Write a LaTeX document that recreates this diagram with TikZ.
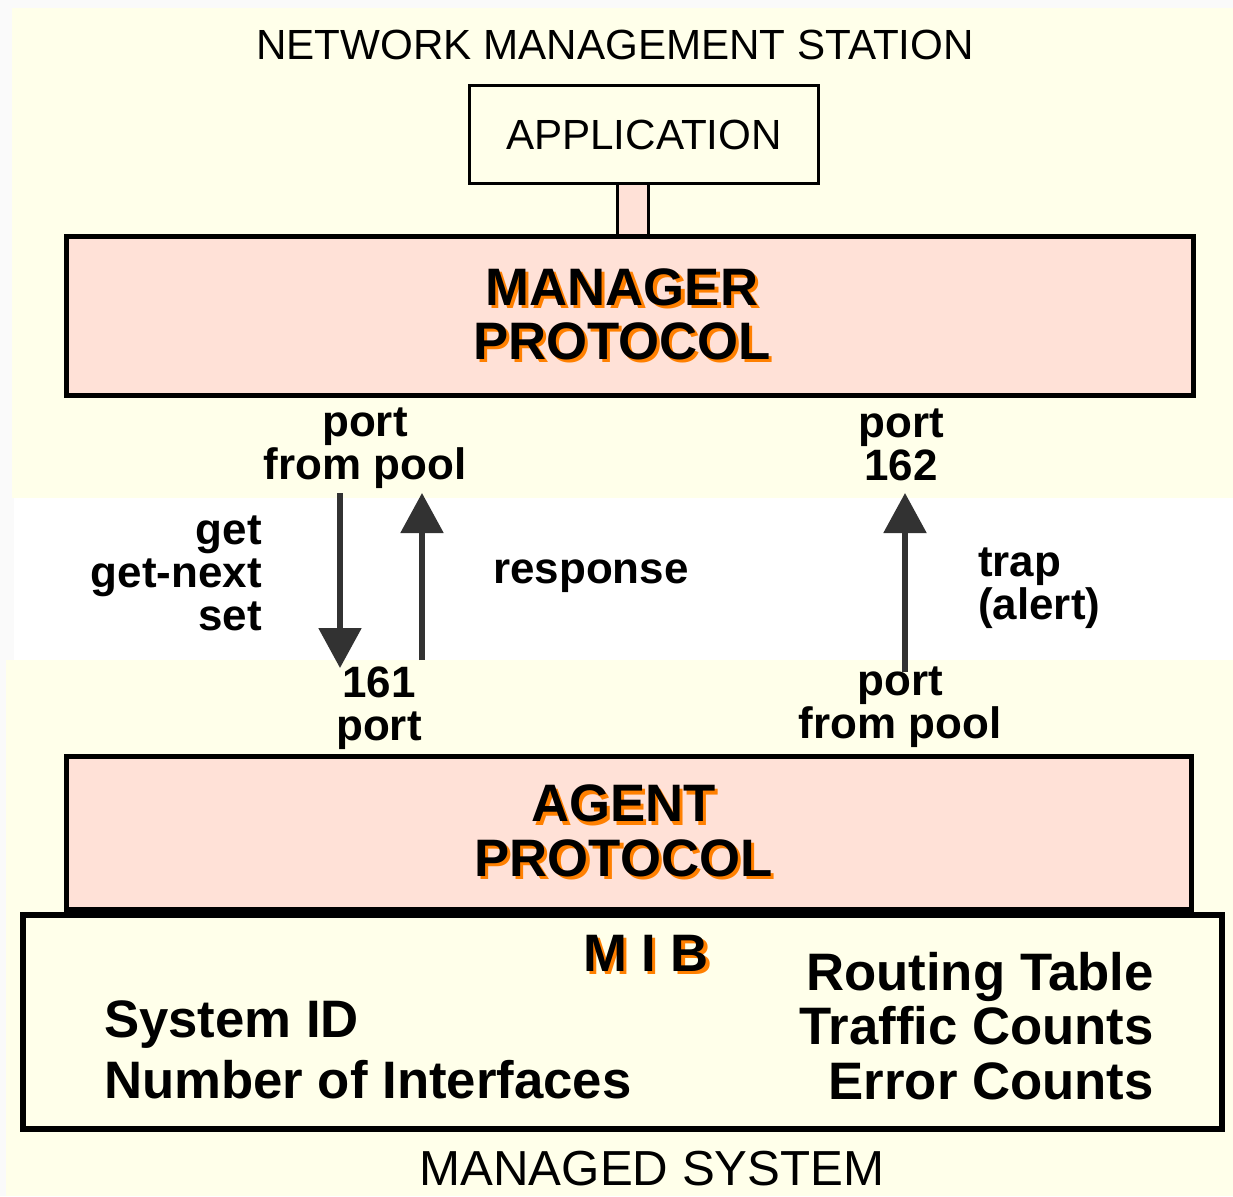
\documentclass[tikz,border=0pt]{standalone}
\usepackage{fontspec}
\setmainfont{Liberation Sans}
\usetikzlibrary{arrows.meta}
\definecolor{cream}{RGB}{255,255,234}
\definecolor{salmon}{RGB}{255,225,215}
\definecolor{arrowgray}{RGB}{50,50,50}
\definecolor{shadoworange}{RGB}{255,128,0}
\newcommand\orangeshadow[1]{\rlap{\kern1.8pt\raisebox{-1.8pt}{\color{shadoworange}#1}}#1}

\begin{document}
\begin{tikzpicture}
      [%%%%%%%%%%%%%%%%%%%%%%%%%%%%%%
      box/.style={rectangle,draw=black,line width=0.1cm,fill=salmon,inner sep=0pt},
      title/.style={font=\fontsize{24}{24}\selectfont},
      portlbl/.style={font=\bfseries\fontsize{25}{24.4}\selectfont,align=center},
      bigtext/.style={font=\bfseries\fontsize{30}{31}\selectfont,align=center},
      mibtext/.style={font=\bfseries\fontsize{30}{31}\selectfont},
      flow/.style={draw=arrowgray,line width=0.11cm,-{Triangle[length=0.8cm,width=0.84cm]}},
      ]%%%%%%%%%%%%%%%%%%%%%%%%%%%%%%

      \useasboundingbox (0,0) rectangle (24.66,-23.92);
      \fill[gray!4] (0,0) rectangle (24.66,-23.92);
      \fill[white] (0.28,-9.96) rectangle (24.66,-13.2);
      \fill[cream] (0.24,-0.16) rectangle (24.66,-9.96);
      \fill[cream] (0.12,-13.2) rectangle (24.66,-23.92);

      % station side
      \node[title] (station) at (12.3,-0.9) {NETWORK MANAGEMENT STATION};
      \node[box,line width=0.06cm,minimum width=0.62cm,minimum height=1.2cm] (link) at (12.66,-4.2) {};
      \node[box,fill=cream,line width=0.06cm,minimum width=6.98cm,minimum height=1.96cm,title] (app) at (12.88,-2.69) {APPLICATION};
      \node[box,minimum width=22.54cm,minimum height=3.18cm] (manager) at (12.6,-6.32) {};
      \node[bigtext] (mgrtext) at (12.44,-6.32) {\orangeshadow{MANAGER}\\\orangeshadow{PROTOCOL}};

      % ports and messages
      \node[portlbl] (mgrport) at (7.3,-8.96) {port\\from pool};
      \node[portlbl] (trapport) at (18.02,-8.9) {port\\162};
      \node[portlbl,align=right,anchor=east] (getlbl) at (5.36,-11.46) {get\\get-next\\set};
      \node[portlbl] (resplbl) at (11.82,-11.52) {response};
      \node[portlbl,align=left,anchor=west] (traplbl) at (19.44,-11.76) {trap\\(alert)};
      \node[portlbl] (agtport) at (7.58,-14.16) {161\\port};
      \node[portlbl] (poolport) at (18.0,-14.14) {port\\from pool};

      \coordinate (reqtop) at (6.8,-9.86);
      \coordinate (reqbot) at (6.8,-13.36);
      \coordinate (resbot) at (8.44,-13.2);
      \coordinate (restop) at (8.44,-9.86);
      \coordinate (trapbot) at (18.1,-13.44);
      \coordinate (traptop) at (18.1,-9.86);
      \draw[flow] (reqtop) -- (reqbot);
      \draw[flow] (resbot) -- (restop);
      \draw[flow] (trapbot) -- (traptop);

      % managed system
      \node[box,minimum width=22.5cm,minimum height=3.06cm] (agent) at (12.58,-16.66) {};
      \node[bigtext] (agttext) at (12.47,-16.65) {\orangeshadow{AGENT}\\\orangeshadow{PROTOCOL}};
      \node[box,fill=cream,line width=0.12cm,minimum width=23.98cm,minimum height=4.28cm] (mib) at (12.45,-20.44) {};
      \node[bigtext] (mibtitle) at (12.92,-19.1) {\orangeshadow{M I B}};
      \node[mibtext,align=right,anchor=east] (counters) at (23.2,-20.52) {Routing Table\\Traffic Counts\\Error Counts};
      \node[mibtext,align=left,anchor=west,font=\bfseries\fontsize{30}{35}\selectfont] (sysinfo) at (1.96,-21.0) {System ID\\Number of Interfaces};
      \node[font=\fontsize{28}{28}\selectfont] (system) at (13.04,-23.38) {MANAGED SYSTEM};
    \end{tikzpicture}
\end{document}
